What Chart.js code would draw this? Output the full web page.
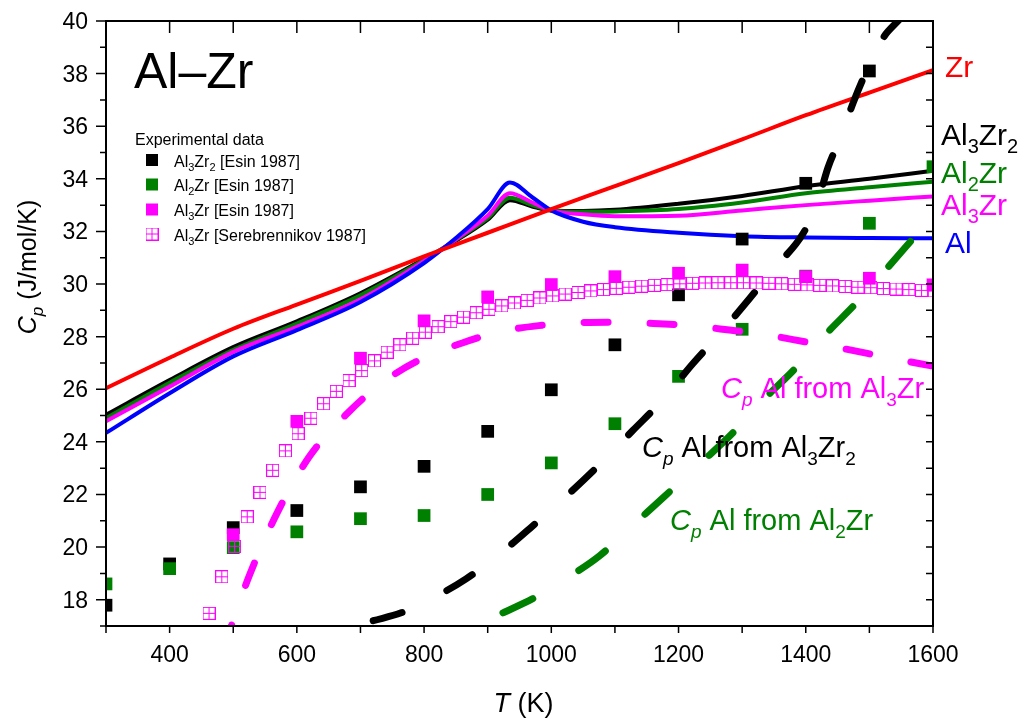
<!DOCTYPE html>
<html>
<head>
<meta charset="utf-8">
<title>Al-Zr Cp</title>
<script src="https://cdn.jsdelivr.net/npm/chart.js@4.4.1/dist/chart.umd.min.js"></script>
<style>
    html, body { margin: 0; padding: 0; background: #fff; }
    #contenedor { width: 1021px; height: 722px; }
</style>
</head>
<body>
<div id="contenedor"><canvas id="grafica" width="1021" height="722"></canvas></div>
<script>
(function(){

    const FUENTE = "'Liberation Sans', Arial, sans-serif";

    // Curvas calculadas (J/mol/K)
    const tZr = [300, 400, 500, 600, 700, 800, 900, 1000, 1100, 1200, 1300, 1400, 1500, 1600];
    const cpZr = [26.04, 27.2, 28.3, 29.22, 30.12, 31.05, 31.95, 32.85, 33.72, 34.6, 35.5, 36.42, 37.28, 38.13];

    const tCurva = [300, 400, 500, 600, 700, 800, 850, 900, 935, 970, 1000, 1050, 1100, 1200, 1300, 1400, 1500, 1600];
    const cpAl3Zr2 = [25.03, 26.35, 27.6, 28.58, 29.65, 30.95, 31.65, 32.45, 33.19, 32.95, 32.8, 32.78, 32.82, 33.05, 33.35, 33.72, 34.0, 34.31];
    const cpAl2Zr = [24.9, 26.25, 27.5, 28.5, 29.57, 30.92, 31.68, 32.5, 33.28, 33.0, 32.8, 32.75, 32.76, 32.85, 33.1, 33.45, 33.68, 33.89];
    const cpAl3Zr = [24.78, 26.1, 27.42, 28.37, 29.42, 30.88, 31.7, 32.6, 33.45, 33.1, 32.8, 32.65, 32.58, 32.6, 32.8, 33.0, 33.17, 33.33];
    const cpAl = [24.34, 25.85, 27.25, 28.25, 29.32, 30.8, 31.75, 32.85, 33.86, 33.3, 32.8, 32.37, 32.16, 31.95, 31.82, 31.77, 31.75, 31.74];

    // Cp del Al derivado (lineas discontinuas)
    const tAlDeAl3Zr = [497, 525, 570, 620, 680, 740, 800, 860, 920, 980, 1040, 1100, 1160, 1220, 1280, 1340, 1400, 1460, 1520, 1580, 1600];
    const cpAlDeAl3Zr = [17.0, 18.9, 21.35, 23.45, 25.1, 26.35, 27.2, 27.76, 28.19, 28.42, 28.53, 28.55, 28.5, 28.42, 28.25, 28.06, 27.8, 27.54, 27.25, 26.97, 26.88];

    const tAlDeAl3Zr2 = [720, 764, 819, 866, 924, 970, 1029, 1073, 1128, 1173, 1223, 1262, 1312, 1349, 1396, 1418, 1435, 1454, 1475, 1496, 1522, 1545, 1560];
    const cpAlDeAl3Zr2 = [17.2, 17.5, 18.13, 18.79, 19.84, 20.79, 22.06, 23.07, 24.43, 25.54, 26.99, 28.03, 29.46, 30.56, 31.93, 33.07, 34.43, 35.54, 36.92, 38.12, 39.37, 40.0, 40.4];

    const tAlDeAl2Zr = [924, 971, 1029, 1076, 1131, 1178, 1236, 1282, 1336, 1381, 1433, 1479, 1530, 1569, 1600];
    const cpAlDeAl2Zr = [17.5, 18.04, 18.89, 19.67, 20.89, 21.93, 23.22, 24.26, 25.66, 26.73, 28.13, 29.27, 30.66, 31.74, 32.6];

    // Datos experimentales
    const tExp = [300, 400, 500, 600, 700, 800, 900, 1000, 1100, 1200, 1300, 1400, 1500, 1600];
    const expAl3Zr2 = [17.79, 19.36, 20.74, 21.39, 22.29, 23.07, 24.4, 25.98, 27.69, 29.59, 31.71, 33.83, 38.1, null];
    const expAl2Zr = [18.6, 19.18, 19.98, 20.58, 21.08, 21.2, 22.0, 23.2, 24.69, 26.49, 28.28, 30.3, 32.31, 34.46];
    const expAl3Zr = [null, null, 20.47, 24.78, 27.18, 28.6, 29.51, 29.98, 30.28, 30.41, 30.53, 30.28, 30.22, 29.97];

    const tSer = [462, 482, 502, 522, 542, 562, 582, 602, 622, 642, 662, 682, 702, 722, 742, 762, 782, 802, 822, 842,
                  862, 882, 902, 922, 942, 962, 982, 1002, 1022, 1042, 1062, 1082, 1102, 1122, 1142, 1162, 1182, 1202, 1222, 1242,
                  1262, 1282, 1302, 1322, 1342, 1362, 1382, 1402, 1422, 1442, 1462, 1482, 1502, 1522, 1542, 1562, 1582, 1602];
    const serAl3Zr = [17.48, 18.87, 20.03, 21.15, 22.08, 22.92, 23.66, 24.31, 24.9, 25.45, 25.92, 26.33, 26.71, 27.08, 27.41, 27.69, 27.94, 28.17, 28.38, 28.57,
                      28.74, 28.91, 29.04, 29.17, 29.28, 29.38, 29.47, 29.55, 29.62, 29.68, 29.74, 29.79, 29.84, 29.88, 29.92, 29.95, 29.98, 30.01, 30.03, 30.04,
                      30.05, 30.05, 30.05, 30.04, 30.03, 30.01, 29.99, 29.97, 29.95, 29.93, 29.91, 29.88, 29.86, 29.83, 29.81, 29.79, 29.76, 29.74];

    const puntos = (xs, ys) => xs.map((x, i) => ({ x: x, y: ys[i] })).filter(p => p.y !== null);

    // simbolo cuadrado abierto con cruz
    function cuadroAbierto() {
        const c = document.createElement('canvas');
        c.width = 13;
        c.height = 13;
        const g = c.getContext('2d');
        g.strokeStyle = '#ff00ff';
        g.lineWidth = 1;
        g.strokeRect(0.5, 0.5, 12, 12);
        g.beginPath();
        g.moveTo(6.5, 0); g.lineTo(6.5, 13);
        g.moveTo(0, 6.5); g.lineTo(13, 6.5);
        g.stroke();
        return c;
    }
    const simboloSer = cuadroAbierto();

    function curva(label, xs, ys, color, orden) {
        return {
            label: label,
            data: puntos(xs, ys),
            showLine: true,
            borderColor: color,
            borderWidth: 4,
            pointRadius: 0,
            cubicInterpolationMode: 'monotone',
            clip: 0,
            order: orden
        };
    }

    function discontinua(label, xs, ys, color, patron, desfase, orden) {
        return {
            label: label,
            data: puntos(xs, ys),
            showLine: true,
            borderColor: color,
            borderWidth: 7,
            borderDash: patron,
            borderDashOffset: desfase,
            borderCapStyle: 'round',
            borderJoinStyle: 'round',
            pointRadius: 0,
            cubicInterpolationMode: 'monotone',
            clip: 0,
            order: orden
        };
    }

    function experimental(label, ys, color, orden) {
        return {
            label: label,
            data: puntos(tExp, ys),
            showLine: false,
            pointStyle: 'rect',
            pointRadius: 9,
            pointBackgroundColor: color,
            pointBorderWidth: 0,
            clip: 0,
            order: orden
        };
    }

    // texto con subindices / cursiva: partes = [[texto, estilo]]
    function medir(ctx, partes, size) {
        let w = 0;
        partes.forEach(([s, st]) => {
            const sub = st.startsWith('sub');
            const fs = sub ? Math.round(size * 0.66) : size;
            ctx.font = (st.endsWith('i') ? 'italic ' : '') + fs + 'px ' + FUENTE;
            w += ctx.measureText(s).width;
        });
        return w;
    }

    function texto(ctx, x, y, partes, size, color) {
        let cx = x;
        ctx.fillStyle = color;
        ctx.textBaseline = 'alphabetic';
        ctx.textAlign = 'left';
        partes.forEach(([s, st]) => {
            const sub = st.startsWith('sub');
            const fs = sub ? Math.round(size * 0.66) : size;
            ctx.font = (st.endsWith('i') ? 'italic ' : '') + fs + 'px ' + FUENTE;
            ctx.fillText(s, cx, y + (sub ? size * 0.27 : 0));
            cx += ctx.measureText(s).width;
        });
        return cx;
    }

    const marco = {
        id: 'marco',
        afterDraw(chart) {
            const ctx = chart.ctx;
            const a = chart.chartArea;
            const sx = chart.scales.x;
            const sy = chart.scales.y;
            ctx.save();

            // marco y marcas de los ejes
            ctx.strokeStyle = '#000';
            ctx.lineWidth = 2;
            ctx.strokeRect(a.left, a.top, a.right - a.left, a.bottom - a.top);
            ctx.lineWidth = 1.5;
            ctx.beginPath();
            sx.ticks.forEach(t => {
                const px = sx.getPixelForValue(t.value);
                ctx.moveTo(px, a.bottom); ctx.lineTo(px, a.bottom + 7);
                ctx.moveTo(px, a.top); ctx.lineTo(px, a.top + 12);
            });
            sy.ticks.forEach(t => {
                const py = sy.getPixelForValue(t.value);
                ctx.moveTo(a.left, py); ctx.lineTo(a.left - (t.value % 2 === 0 ? 10 : 6), py);
                ctx.moveTo(a.right, py); ctx.lineTo(a.right - 7, py);
            });
            ctx.stroke();

            // etiquetas de las marcas
            ctx.fillStyle = '#000';
            ctx.font = '23px ' + FUENTE;
            ctx.textBaseline = 'alphabetic';
            ctx.textAlign = 'center';
            sx.ticks.forEach(t => {
                if (t.value % 200 === 0) {
                    ctx.fillText(String(t.value), sx.getPixelForValue(t.value), 662);
                }
            });
            ctx.textAlign = 'right';
            sy.ticks.forEach(t => {
                if (t.value % 2 === 0) {
                    ctx.fillText(String(t.value), 88, sy.getPixelForValue(t.value) + 8);
                }
            });

            // titulos de ejes
            const tx = [['T', 'i'], [' (K)', '']];
            texto(ctx, (a.left + a.right) / 2 + 4 - medir(ctx, tx, 27) / 2, 712, tx, 27, '#000');
            const ty = [['C', 'i'], ['p', 'subi'], [' (J/mol/K)', '']];
            ctx.save();
            ctx.translate(36, 267);
            ctx.rotate(-Math.PI / 2);
            texto(ctx, -medir(ctx, ty, 25) / 2, 0, ty, 25, '#000');
            ctx.restore();

            // titulo del sistema
            texto(ctx, 134, 88, [['Al\u2013Zr', '']], 50, '#000');

            // leyenda
            texto(ctx, 135, 145, [['Experimental data', '']], 16, '#000');
            const filas = [
                { y: 166.5, c: '#000000', p: [['Al', ''], ['3', 'sub'], ['Zr', ''], ['2', 'sub'], [' [Esin 1987]', '']] },
                { y: 191, c: '#008000', p: [['Al', ''], ['2', 'sub'], ['Zr [Esin 1987]', '']] },
                { y: 216, c: '#ff00ff', p: [['Al', ''], ['3', 'sub'], ['Zr [Esin 1987]', '']] },
                { y: 240.5, c: null, p: [['Al', ''], ['3', 'sub'], ['Zr [Serebrennikov 1987]', '']] }
            ];
            filas.forEach(f => {
                if (f.c) {
                    ctx.fillStyle = f.c;
                    ctx.fillRect(146, f.y - 12.5, 12, 12);
                } else {
                    ctx.drawImage(simboloSer, 145.5, f.y - 13);
                }
                texto(ctx, 174, f.y, f.p, 16, '#000');
            });

            // etiquetas a la derecha
            texto(ctx, 945, 77, [['Zr', '']], 30, '#ff0000');
            texto(ctx, 941, 145, [['Al', ''], ['3', 'sub'], ['Zr', ''], ['2', 'sub']], 30, '#000');
            texto(ctx, 941, 183, [['Al', ''], ['2', 'sub'], ['Zr', '']], 30, '#008000');
            texto(ctx, 941, 215, [['Al', ''], ['3', 'sub'], ['Zr', '']], 30, '#ff00ff');
            texto(ctx, 945, 253, [['Al', '']], 30, '#0000ff');

            // rotulos de las curvas discontinuas
            texto(ctx, 721, 398, [['C', 'i'], ['p', 'subi'], [' Al from Al', ''], ['3', 'sub'], ['Zr', '']], 29, '#ff00ff');
            texto(ctx, 642, 457, [['C', 'i'], ['p', 'subi'], [' Al from Al', ''], ['3', 'sub'], ['Zr', ''], ['2', 'sub']], 29, '#000');
            texto(ctx, 670, 530, [['C', 'i'], ['p', 'subi'], [' Al from Al', ''], ['2', 'sub'], ['Zr', '']], 29, '#008000');

            ctx.restore();
        }
    };

    const ctx = document.getElementById('grafica');

    const data = {
        datasets: [
            curva('Al3Zr2', tCurva, cpAl3Zr2, '#000000', 55),
            curva('Al2Zr', tCurva, cpAl2Zr, '#008000', 54),
            curva('Al3Zr', tCurva, cpAl3Zr, '#ff00ff', 53),
            curva('Al', tCurva, cpAl, '#0000ff', 52),
            curva('Zr', tZr, cpZr, '#ff0000', 51),
            experimental('Al3Zr2 [Esin 1987]', expAl3Zr2, '#000000', 33),
            experimental('Al2Zr [Esin 1987]', expAl2Zr, '#008000', 32),
            experimental('Al3Zr [Esin 1987]', expAl3Zr, '#ff00ff', 31),
            {
                label: 'Al3Zr [Serebrennikov 1987]',
                data: puntos(tSer, serAl3Zr),
                showLine: false,
                pointStyle: simboloSer,
                pointRadius: 6,
                clip: 0,
                order: 25
            },
            discontinua('Cp Al from Al3Zr', tAlDeAl3Zr, cpAlDeAl3Zr, '#ff00ff', [24, 42], 23, 12),
            discontinua('Cp Al from Al3Zr2', tAlDeAl3Zr2, cpAlDeAl3Zr2, '#000000', [30, 50], 0, 11),
            discontinua('Cp Al from Al2Zr', tAlDeAl2Zr, cpAlDeAl2Zr, '#008000', [33, 54], 0, 10)
        ]
    };

    const config = {
        type: 'scatter',
        data: data,
        options: {
            responsive: false,
            animation: false,
            devicePixelRatio: 1,
            events: [],
            layout: {
                padding: { top: 21, right: 88, left: 0, bottom: 0 }
            },
            plugins: {
                legend: { display: false },
                tooltip: { enabled: false }
            },
            scales: {
                x: {
                    type: 'linear',
                    min: 300,
                    max: 1600,
                    afterFit: s => { s.height = 96; },
                    grid: { display: false },
                    border: { display: false },
                    ticks: { stepSize: 100, display: false }
                },
                y: {
                    type: 'linear',
                    min: 17,
                    max: 40,
                    afterFit: s => { s.width = 106; },
                    grid: { display: false },
                    border: { display: false },
                    ticks: { stepSize: 1, display: false }
                }
            }
        },
        plugins: [marco]
    };

    new Chart(ctx, config);

})();
</script>
</body>
</html>
